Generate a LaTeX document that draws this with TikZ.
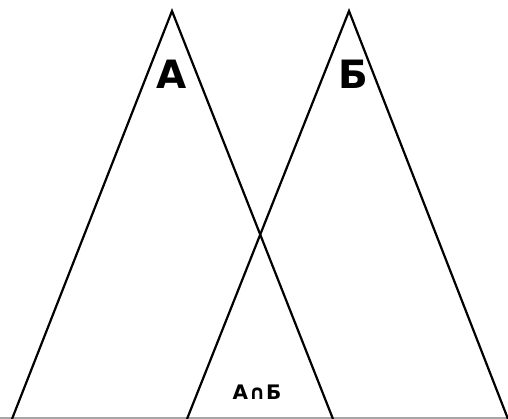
\documentclass[tikz,border=0pt]{standalone}
\usepackage{fontspec}
\setmainfont{DejaVu Sans}
\begin{document}
\begin{tikzpicture}[x=1pt,y=-1pt,
  edge/.style={line width=2.2pt,line join=miter},
  big/.style={font=\bfseries\fontsize{39}{41}\selectfont,inner sep=0pt,anchor=base},
  small/.style={font=\bfseries\fontsize{20}{22}\selectfont,inner sep=0pt,anchor=base}]
\useasboundingbox (0,0) rectangle (508,419);
\coordinate (aTop) at (172,11);
\coordinate (aL) at (12,419);
\coordinate (aR) at (333,419);
\coordinate (bTop) at (349,11);
\coordinate (bL) at (187,419);
\coordinate (bR) at (508,419);
\coordinate (baseL) at (0,418);
\coordinate (baseR) at (508,418);
\draw[gray!70,line width=1.5pt] (baseL) -- (baseR);
\draw[edge] (aL) -- (aTop) -- (aR);
\draw[edge] (bL) -- (bTop) -- (bR);
\node[big] (la) at (172,89) {А};
\node[big] (lb) at (353,89) {Б};
\node[small] (lab) at (257,399) {А\kern1pt∩\kern1ptБ};
\end{tikzpicture}
\end{document}
